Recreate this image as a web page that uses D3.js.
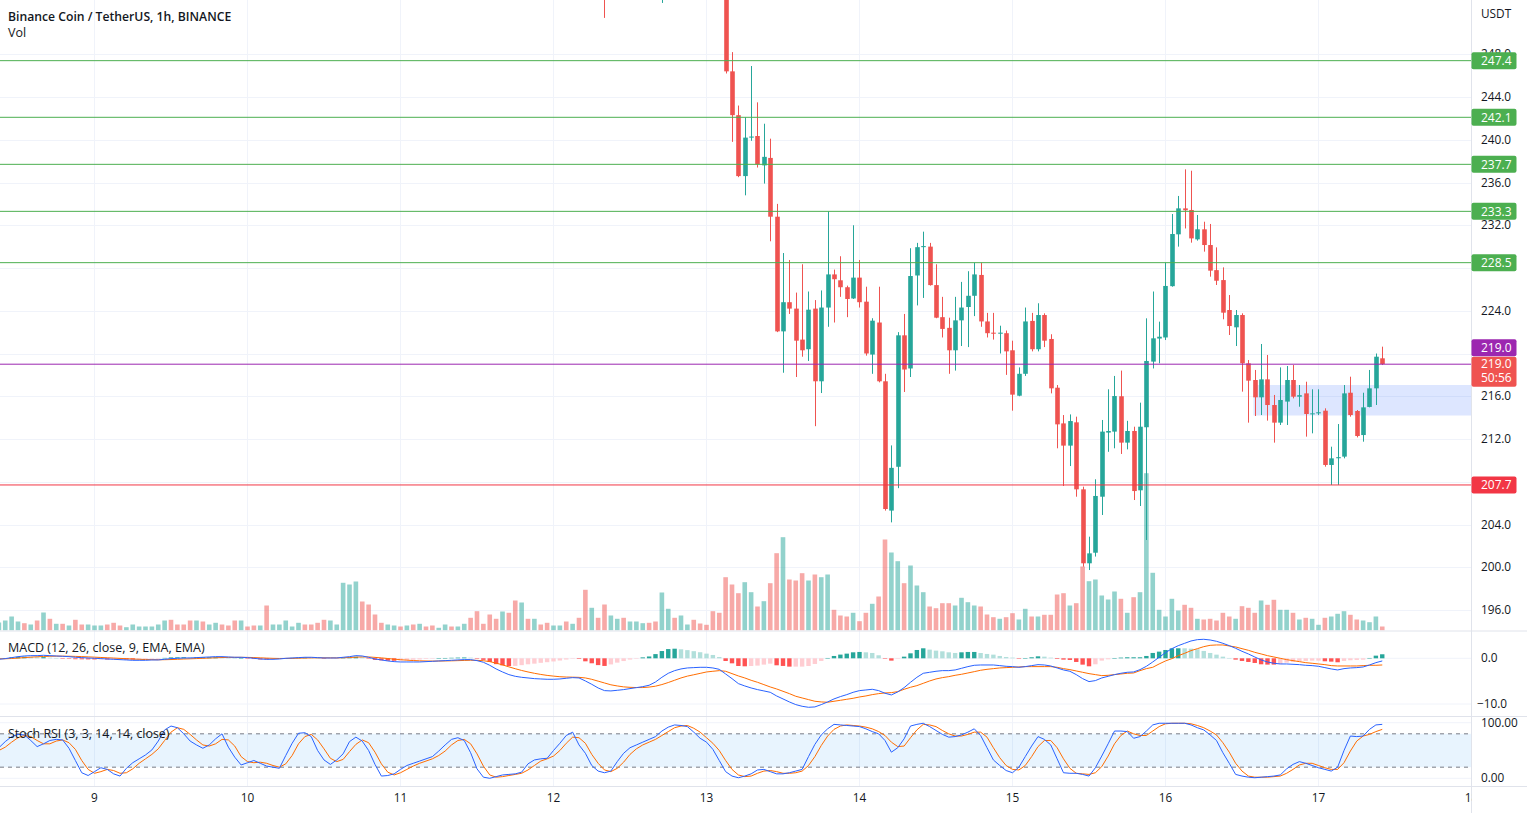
<!DOCTYPE html>
<html><head><meta charset="utf-8">
<script src="https://cdn.jsdelivr.net/npm/d3@7"></script>
<style>
html,body{margin:0;padding:0;background:#fff;overflow:hidden;}
svg{display:block;font-family:"Open Sans","Noto Sans",sans-serif;}
</style></head><body>
<svg id="c" width="1527" height="813"></svg>
<script>
// ---------------- DATA ----------------
// hour index 0 = day 9 00:00; bars run from hour firstHour
const firstHour = -15;
const dayLabels = ["9","10","11","12","13","14","15","16","17","18"];
const titleText = "Binance Coin / TetherUS, 1h, BINANCE";
const priceTicks = [196,200,204,208,212,216,220,224,228,232,236,240,244,248];
const macdTicks = [0,-10];
const stochTicks = [100,0];
const greenLevels = [247.4,242.1,237.7,233.3,228.5];
const purpleLevel = 219.0;
const redLevel = 207.7;
const lastPrice = 219.0;
const countdown = "50:56";
const zoneLow = 214.2, zoneHigh = 217.05, zoneStartHour = 181.8;

const volumes = [
 8,10,14,9,7.3,6,10,18,11.7,6.7,6.7,5,10.7,6,6,
 5,5,6,7.7,5,3.3,6,4,4,4,
 6,10,10.7,6,6,10,10,9,6,7.7,
 6,5,10,10,4,5,5,25,6,6,
 10,4,7.7,6,6,7.7,10.7,10,6,47.7,
 46,49,29,26,16,7.7,6,5,4,5,
 6,6.7,4,5,2.7,6,4,4,6.7,12.7,
 19.3,6.7,16,11.7,19,17.7,30,28,11.7,11.7,
 6,7.7,5,5,9,6.7,12.7,40.7,22.7,12.7,
 26,15,11.7,12.7,9,9,7.3,7.7,9,38,
 21.7,12.7,15,6,10.7,7,5.7,19.3,17.7,53.3,
 46,37.3,48.3,38.3,24,29.3,47.3,77.3,93.3,51,
 50,57.3,50,56,53.3,56,20.7,15,14,17.7,
 9.3,17.7,26.7,34,91,78,69.3,47.3,65,45,
 38.3,24,22.3,27.3,27.3,25,32.7,28.3,25,24,
 16,13.3,11.7,13.3,17.3,11,21.7,14,14,15.7,
 15.7,36,37.3,25,27.3,64,49.3,51,35,31,
 39,31.7,17.7,33.3,38.3,157.3,57.7,20.7,14,31.7,
 20,25.7,22.7,11.7,11,11.7,10,17.7,14,11.7,
 24.3,22.7,17.7,30,25.7,30.7,20.7,20.7,17.7,11,
 12.7,11.7,5.7,12.7,14,16.7,19.3,15.7,11,10,
 8.3,14,4
];
const volumeDirs =
 "uuuudududududdu" +
 "uuddduuuuu" + "uudddduduu" + "dddudduduu" + "uuudddduuu" + "uudddduudu" +
 "dudduuduud" + "dddduddudu" + "dduududdud" + "duuduuuddu" + "uduudddddd" +
 "dduududdud" + "dduduudddu" + "ddudduuduu" + "udddduuuud" + "ddudduudud" +
 "dddudduuuu" + "ududuuuuuu" + "uddudddddu" + "dddudduudu" + "duuduuuddu" + "uud";

const candleStartHour = 80;
const candles = [ // [open, high, low, close]
 [256.5,257.5,251.4,254.0],[254.0,256.8,253.5,256.2],[256.2,258.0,255.4,257.4],[257.4,258.2,255.6,256.3],
 [256.3,258.5,255.9,258.0],[258.0,259.4,257.3,258.9],[258.9,260.0,258.1,259.6],[259.6,260.1,257.8,258.2],
 [258.2,258.7,255.6,256.0],[256.0,259.8,252.8,259.1],[259.1,261.4,258.4,260.8],[260.8,261.5,259.2,259.6],
 [259.6,261.2,259.0,260.7],[260.7,261.6,260.1,261.1],[261.1,261.5,259.4,259.8],[259.8,260.3,258.6,259.0],
 [259.0,259.5,257.9,258.3],[258.3,258.8,256.0,256.6],[256.6,257.2,254.4,255.2],
 [255.2,255.9,246.2,246.4],[246.4,248.2,239.8,242.3],[242.3,243.2,236.5,236.6],[236.6,242.1,234.8,240.2],
 [240.2,246.9,239.9,240.3],[240.35,243.5,237.4,237.7],[237.6,241.5,235.9,238.4],[238.3,240.1,230.5,232.8],
 [232.8,234.0,222.0,222.07],[222.07,229.4,218.2,224.8],[224.8,228.75,223.7,224.2],[224.2,225.7,217.8,221.2],
 [221.3,228.35,219.7,220.3],[220.4,225.8,219.3,224.1],[224.2,225.0,213.2,217.4],[217.4,225.9,216.3,224.3],
 [224.3,233.3,222.5,227.4],[227.4,227.85,222.9,226.95],[226.85,229.1,225.3,226.2],[226.2,226.35,223.4,225.1],
 [225.15,232.0,225.1,227.1],[227.1,228.75,224.3,224.8],[224.85,226.25,219.8,220.0],[219.9,223.3,218.1,223.07],
 [222.9,226.25,217.3,217.4],[217.4,218.1,205.3,205.45],[205.3,211.4,204.2,209.3],[209.4,222.0,207.4,221.7],
 [221.7,223.7,216.4,218.5],[218.6,229.85,217.8,227.25],[227.3,230.35,224.5,229.95],[229.95,231.4,225.2,230.05],
 [230.0,230.35,226.35,226.4],[226.4,228.35,223.3,223.35],[223.4,225.3,221.5,222.3],[222.4,223.35,218.1,220.3],
 [220.3,225.3,218.4,223.1],[223.1,226.7,220.7,224.3],[224.35,227.7,220.6,225.4],[225.4,228.5,223.5,227.4],
 [227.35,228.5,222.5,223.0],[223.0,223.8,221.5,221.9],[221.95,223.8,221.3,221.85],[221.85,222.6,220.0,221.95],
 [221.9,222.15,218.0,220.2],[220.3,221.2,214.65,216.15],[216.05,218.7,216.0,218.1],[218.1,224.3,217.9,223.0],
 [223.05,223.8,220.2,220.4],[220.4,224.7,220.2,223.6],[223.6,223.76,220.6,221.2],
 [221.36,221.8,216.27,216.74],[216.8,217.05,211.13,213.37],[213.46,214.24,207.6,211.38],[211.38,214.3,209.47,213.68],
 [213.56,214.09,206.6,207.29],[207.29,207.54,200.05,200.37],[200.37,202.86,199.74,201.3],[201.36,208.23,201.0,206.67],
 [206.6,213.78,204.89,212.69],[212.6,216.65,210.8,212.75],[212.69,217.9,211.13,216.02],[216.0,218.4,210.6,211.66],
 [211.66,213.7,211.03,212.75],[212.75,213.15,206.29,207.13],[207.2,215.4,205.73,213.15],[213.1,223.29,202.55,219.3],
 [219.24,225.8,218.6,221.42],[221.4,222.98,219.08,221.57],[221.5,228.5,221.26,226.32],[226.3,233.05,226.25,231.18],
 [231.15,234.74,230.0,233.58],[233.58,237.23,231.7,233.4],[233.43,237.1,230.37,230.77],[230.68,232.96,230.56,231.62],
 [231.62,232.33,229.53,230.15],[230.15,232.12,227.19,227.75],[227.8,229.93,226.41,226.81],[226.87,228.06,223.2,223.82],
 [224.07,225.47,221.73,222.57],[222.45,224.07,220.7,223.6],[223.6,223.76,216.43,219.08],[219.08,219.39,213.53,217.46],
 [217.52,218.46,214.15,215.9],[215.9,220.89,214.24,217.58],[217.58,219.86,213.72,215.18],[215.18,216.12,211.66,213.53],
 [213.53,218.7,213.31,215.65],[215.5,218.83,213.31,217.52],[217.52,218.92,215.8,215.96],[215.96,217.05,215.02,216.1],
 [216.27,217.36,212.22,214.34],[214.37,216.65,212.53,214.4],[214.4,216.65,214.24,214.5],[214.65,214.87,209.41,209.57],
 [209.57,211.28,207.7,210.19],[210.2,213.4,207.7,210.3],[210.35,217.05,210.19,216.27],[216.33,217.83,214.09,214.24],
 [214.62,214.71,212.15,212.28],[212.37,216.33,211.75,214.96],[215.0,218.46,214.96,216.74],[216.74,220.0,215.18,219.7],
 [219.55,220.64,218.92,219.02]
];

const macdLine = [
 -0.22,-0.07,0.15,0.36,0.51,0.58,0.58,0.66,0.58,0.51,0.44,0.36,0.22,0.15,0.07,
 0,-0.07,-0.15,-0.22,-0.29,-0.36,-0.44,-0.44,-0.44,-0.36,
 -0.36,-0.22,-0.07,0,0.07,0.07,0.15,0.22,0.29,0.36,
 0.36,0.29,0.22,0.22,0.15,0,-0.15,-0.22,-0.22,-0.15,
 0,0.07,0.15,0.22,0.22,0.15,0.07,0.07,0.07,0.22,
 0.36,0.58,0.51,0.22,-0.15,-0.36,-0.58,-0.73,-0.8,-0.8,
 -0.8,-0.8,-0.73,-0.66,-0.58,-0.51,-0.44,-0.36,-0.29,-0.29,
 -0.51,-0.87,-1.53,-2.33,-2.99,-3.57,-3.94,-4.16,-4.3,-4.45,
 -4.52,-4.59,-4.59,-4.52,-4.37,-4.23,-4.3,-4.96,-5.69,-6.49,
 -7.07,-7.14,-7.0,-6.85,-6.63,-6.42,-6.2,-5.9,-5.18,-4.16,
 -3.28,-2.7,-2.33,-2.11,-2.04,-1.97,-1.97,-2.11,-2.41,-3.43,
 -4.45,-5.54,-6.05,-6.49,-6.85,-7.14,-7.44,-8.24,-8.89,-9.55,
 -10.13,-10.5,-10.72,-10.64,-10.13,-9.55,-8.89,-8.38,-7.95,-7.44,
 -7.07,-6.93,-6.78,-7.07,-7.65,-8.02,-7.36,-6.42,-5.25,-4.16,
 -3.28,-3.06,-2.84,-2.7,-2.7,-2.55,-2.19,-1.82,-1.53,-1.46,
 -1.46,-1.46,-1.6,-1.75,-1.82,-1.97,-1.82,-1.6,-1.39,-1.46,
 -1.68,-2.11,-2.55,-2.84,-3.57,-4.45,-5.1,-4.88,-4.3,-3.94,
 -3.57,-3.28,-3.06,-2.99,-2.48,-1.75,-0.8,0.22,1.24,2.11,
 2.77,3.28,3.79,4.08,4.16,4.01,3.72,3.28,2.77,2.19,
 1.53,0.95,0.29,-0.36,-0.8,-1.09,-1.24,-1.24,-1.31,-1.39,
 -1.53,-1.6,-1.75,-2.04,-2.33,-2.55,-2.26,-2.11,-2.04,-1.9,
 -1.46,-0.95,-0.58
];
const signalLine = [
 -0.1,-0.1,-0.05,0.05,0.15,0.25,0.33,0.4,0.45,0.47,0.47,0.45,0.42,0.37,0.31,
 0.25,0.18,0.12,0.05,-0.02,-0.09,-0.16,-0.22,-0.27,-0.3,
 -0.32,-0.31,-0.27,-0.22,-0.16,-0.11,-0.06,0.0,0.06,0.12,
 0.17,0.2,0.21,0.21,0.2,0.16,0.1,0.04,-0.01,-0.04,
 -0.03,-0.01,0.02,0.06,0.09,0.1,0.1,0.1,0.09,0.12,
 0.17,0.25,0.3,0.29,0.2,0.09,-0.05,-0.19,-0.31,-0.41,
 -0.49,-0.55,-0.59,-0.61,-0.6,-0.58,-0.55,-0.51,-0.47,-0.43,
 -0.45,-0.53,-0.73,-1.05,-1.44,-1.87,-2.28,-2.66,-2.99,-3.28,
 -3.53,-3.74,-3.9,-4.03,-4.1,-4.13,-4.17,-4.3,-4.6,-5.0,
 -5.4,-5.8,-6.05,-6.25,-6.35,-6.4,-6.4,-6.3,-6.1,-5.75,
 -5.3,-4.8,-4.3,-3.9,-3.6,-3.3,-2.99,-2.84,-2.7,-2.84,
 -3.35,-3.86,-4.3,-4.81,-5.25,-5.76,-6.27,-6.71,-7.22,-7.73,
 -8.31,-8.68,-9.04,-9.4,-9.55,-9.62,-9.4,-9.19,-8.97,-8.75,
 -8.46,-8.24,-7.95,-7.73,-7.58,-7.51,-7.29,-6.78,-6.34,-5.98,
 -5.47,-4.96,-4.52,-4.23,-4.01,-3.72,-3.5,-3.21,-2.92,-2.62,
 -2.41,-2.26,-2.11,-2.04,-1.97,-1.9,-1.82,-1.82,-1.82,-1.82,
 -1.82,-1.97,-2.26,-2.48,-2.77,-3.06,-3.35,-3.57,-3.79,-3.72,
 -3.57,-3.43,-3.28,-3.21,-2.7,-2.26,-1.97,-1.24,-0.58,-0.07,
 0.58,1.09,1.68,2.11,2.55,2.84,2.92,2.92,2.7,2.48,
 2.11,1.75,1.31,0.95,0.58,0.29,0,-0.29,-0.51,-0.73,
 -0.95,-1.09,-1.24,-1.39,-1.6,-1.68,-1.68,-1.68,-1.68,-1.6,
 -1.53,-1.53,-1.46
];
const stochK = [
 55,66,75,79,78,68,57,62,68,70,69,54,32,10,5,
 12,19,16,8,4,18,28,35,42,51,
 67,87,94,91,80,67,60,54,60,71,
 80,56,38,24,28,32,27,22,20,18,
 41,63,81,82,75,50,33,25,33,44,
 66,74,67,50,25,4,5,8,16,23,
 27,31,35,39,49,60,70,73,68,46,
 17,2,0,3,6,7,8,11,26,33,
 35,36,50,63,77,83,60,45,23,13,
 10,13,30,45,55,60,65,70,75,85,
 92,96,95,93,83,72,65,52,32,12,
 4,1,4,8,15,16,12,8,8,10,
 13,16,39,61,78,89,97,96,95,94,
 93,89,84,80,68,47,55,71,94,97,
 99,93,86,79,74,75,78,83,89,77,
 55,33,23,14,10,20,39,58,75,70,
 60,35,10,9,9,7,4,19,40,62,
 85,85,84,72,75,85,96,99,99,99,
 99,99,96,91,87,78,68,46,27,7,
 4,2,1,2,3,4,6,17,25,30,
 27,23,19,16,13,20,50,76,75,76,
 88,96,97
];
const stochD = [
 50,56,65,73,77,75,68,62,62,67,69,64,52,32,16,
 9,12,16,14,9,10,17,27,35,43,
 53,68,83,91,88,79,69,60,58,62,
 70,69,58,39,30,28,29,27,23,20,
 26,41,62,75,79,69,53,36,30,34,
 48,61,69,64,47,26,11,6,10,16,
 22,27,31,35,41,49,60,68,70,62,
 44,22,6,2,3,5,7,9,15,23,
 31,35,40,50,63,74,73,63,43,27,
 15,12,18,29,43,53,60,65,70,77,
 84,91,94,95,90,83,73,63,50,32,
 16,6,3,4,9,13,14,12,9,9,
 10,13,23,39,59,76,88,94,96,95,
 94,92,89,84,77,65,57,58,73,87,
 97,96,93,86,80,76,76,79,83,83,
 74,55,37,23,16,15,23,39,57,68,
 68,55,35,18,9,8,7,10,21,40,
 62,77,85,80,77,77,85,93,98,99,
 99,99,98,95,91,85,78,64,47,27,
 13,4,2,2,2,3,4,9,16,24,
 27,27,23,19,16,16,28,49,67,76,
 79,84,88
];

// ---------------- LAYOUT ----------------
const W = 1527, H = 813, plotRight = 1471.5;
const mainTop = 0, mainBottom = 630.5;
const macdTop = 631.5, macdBottom = 716;
const stochTop = 717, stochBottom = 786;
const upColor = "#26a69a", downColor = "#ef5350";
const gridColor = "#f0f3fa", sepColor = "#e0e3eb", textColor = "#131722";
const axisFont = "11.8px", labelFont = "12px";

const svg = d3.select("#c");
const x = d3.scaleLinear().domain([-14.8235, 216]).range([0, plotRight]);
const yP = d3.scaleLinear().domain([196, 244]).range([610, 97]);
const yV = d3.scaleLinear().domain([0, 160]).range([mainBottom, mainBottom - 160]);
const yM = d3.scaleLinear().domain([-10, 0]).range([704, 658.3]);
const yS = d3.scaleLinear().domain([0, 100]).range([778.3, 722.7]);

const defs = svg.append("defs");
function clip(id, y0, y1, x1) {
  defs.append("clipPath").attr("id", id).append("rect")
    .attr("x", 0).attr("y", y0).attr("width", x1 || plotRight).attr("height", y1 - y0);
}
clip("cMain", mainTop, mainBottom);
clip("cMacd", macdTop, macdBottom);
clip("cStoch", stochTop, stochBottom);
clip("cAxis", stochBottom, H);

const hours = d3.range(firstHour, firstHour + volumes.length);
const dayHours = dayLabels.map((d, k) => k * 24);

// ---------- grid ----------
const grid = svg.append("g");
dayHours.forEach(h => {
  grid.append("line").attr("x1", x(h)).attr("x2", x(h)).attr("y1", 0).attr("y2", stochBottom)
    .attr("stroke", gridColor).attr("stroke-width", 1);
});
priceTicks.forEach(t => grid.append("line").attr("x1", 0).attr("x2", plotRight)
  .attr("y1", Math.round(yP(t)) + 0.5).attr("y2", Math.round(yP(t)) + 0.5).attr("stroke", gridColor));
macdTicks.forEach(t => grid.append("line").attr("x1", 0).attr("x2", plotRight)
  .attr("y1", yM(t)).attr("y2", yM(t)).attr("stroke", gridColor));
stochTicks.forEach(t => grid.append("line").attr("x1", 0).attr("x2", plotRight)
  .attr("y1", yS(t)).attr("y2", yS(t)).attr("stroke", gridColor));

// ---------- main pane ----------
const main = svg.append("g").attr("clip-path", "url(#cMain)");
main.append("rect").attr("x", x(zoneStartHour)).attr("y", yP(zoneHigh))
  .attr("width", plotRight - x(zoneStartHour)).attr("height", yP(zoneLow) - yP(zoneHigh))
  .attr("fill", "rgba(41,98,255,0.16)");
const bw = 4.6;
main.selectAll("rect.vol").data(hours).join("rect").attr("class", "vol")
  .attr("x", h => x(h) - bw / 2)
  .attr("y", (h, k) => yV(volumes[k]))
  .attr("width", bw)
  .attr("height", (h, k) => mainBottom - yV(volumes[k]))
  .attr("fill", (h, k) => volumeDirs[k] === "u" ? "rgba(38,166,154,0.5)" : "rgba(239,83,80,0.5)");
const cg = main.append("g");
candles.forEach((c, k) => {
  const h = candleStartHour + k;
  const [o, hi, lo, cl] = c;
  const col = cl >= o ? upColor : downColor;
  const cx = Math.round(x(h)) + 0.5;
  cg.append("line").attr("x1", cx).attr("x2", cx).attr("y1", yP(hi)).attr("y2", yP(lo))
    .attr("stroke", col).attr("stroke-width", 1);
  const top = yP(Math.max(o, cl)), bot = yP(Math.min(o, cl));
  cg.append("rect").attr("x", cx - bw / 2).attr("y", top).attr("width", bw)
    .attr("height", Math.max(1, bot - top)).attr("fill", col);
});
greenLevels.forEach(v => main.append("line").attr("x1", 0).attr("x2", plotRight)
  .attr("y1", yP(v)).attr("y2", yP(v)).attr("stroke", "#4caf50").attr("stroke-width", 1));
main.append("line").attr("x1", 0).attr("x2", plotRight).attr("y1", yP(purpleLevel)).attr("y2", yP(purpleLevel))
  .attr("stroke", "#9c27b0").attr("stroke-width", 1);
main.append("line").attr("x1", 0).attr("x2", plotRight).attr("y1", yP(redLevel)).attr("y2", yP(redLevel))
  .attr("stroke", "#f23645").attr("stroke-width", 1);

// ---------- MACD pane ----------
const mp = svg.append("g").attr("clip-path", "url(#cMacd)");
const hist = macdLine.map((m, k) => m - signalLine[k]);
const hw = 4.4;
mp.selectAll("rect.h").data(hours).join("rect").attr("class", "h")
  .attr("x", h => x(h) - hw / 2)
  .attr("y", (h, k) => Math.min(yM(0), yM(hist[k])))
  .attr("width", hw)
  .attr("height", (h, k) => Math.max(0.5, Math.abs(yM(hist[k]) - yM(0))))
  .attr("fill", (h, k) => {
    const v = hist[k], p = k > 0 ? hist[k - 1] : v;
    if (v >= 0) return v >= p ? "#26a69a" : "#b2dfdb";
    return v >= p ? "#ffcdd2" : "#ff5252";
  });
const lineM = d3.line().x((d, k) => x(hours[k])).y(d => yM(d));
mp.append("path").attr("d", lineM(signalLine)).attr("fill", "none").attr("stroke", "#ff6d00").attr("stroke-width", 1);
mp.append("path").attr("d", lineM(macdLine)).attr("fill", "none").attr("stroke", "#2962ff").attr("stroke-width", 1);

// ---------- Stoch pane ----------
const sp = svg.append("g").attr("clip-path", "url(#cStoch)");
sp.append("rect").attr("x", 0).attr("y", yS(80)).attr("width", plotRight).attr("height", yS(20) - yS(80))
  .attr("fill", "rgba(33,150,243,0.1)");
[80, 20].forEach(v => sp.append("line").attr("x1", 0).attr("x2", plotRight)
  .attr("y1", yS(v)).attr("y2", yS(v)).attr("stroke", "#787b86").attr("stroke-dasharray", "4,4"));
const lineS = d3.line().x((d, k) => x(hours[k])).y(d => yS(d));
sp.append("path").attr("d", lineS(stochD)).attr("fill", "none").attr("stroke", "#ff6d00").attr("stroke-width", 1);
sp.append("path").attr("d", lineS(stochK)).attr("fill", "none").attr("stroke", "#2962ff").attr("stroke-width", 1);

// ---------- separators ----------
[mainBottom + 0.5, macdBottom + 0.5, stochBottom + 0.5].forEach(yy =>
  svg.append("line").attr("x1", 0).attr("x2", W).attr("y1", yy).attr("y2", yy).attr("stroke", sepColor));
svg.append("line").attr("x1", plotRight).attr("x2", plotRight).attr("y1", 0).attr("y2", H).attr("stroke", sepColor);

// ---------- price-axis label boxes (computed first to hide covered tick labels) ----------
const yCur = yP(lastPrice);
const yPurple = yCur - 16.5;
const boxes = greenLevels.map(v => [yP(v) - 8.5, yP(v) + 8.5])
  .concat([[yP(redLevel) - 8.5, yP(redLevel) + 8.5], [yPurple - 8.5, yPurple + 8.5], [yCur - 7.5, yCur + 22.5]]);
function fullyCovered(yc) {
  for (let yy = yc - 4; yy <= yc + 4; yy += 0.5) {
    if (!boxes.some(b => yy >= b[0] - 1 && yy <= b[1] + 1)) return false;
  }
  return true;
}

// ---------- axes text ----------
const ax = svg.append("g").attr("font-size", axisFont).attr("fill", textColor);
priceTicks.filter(t => !fullyCovered(yP(t))).forEach(t =>
  ax.append("text").attr("x", 1481).attr("y", yP(t)).attr("dy", "0.35em").text(t.toFixed(1)));
ax.append("text").attr("x", 1481).attr("y", 14).attr("dy", "0.35em").text("USDT");
macdTicks.forEach(t => ax.append("text").attr("x", t < 0 ? 1477 : 1481).attr("y", yM(t)).attr("dy", "0.35em").text(t.toFixed(1).replace("-", "\u2212")));
stochTicks.forEach(t => ax.append("text").attr("x", 1481).attr("y", yS(t)).attr("dy", "0.35em").text(t.toFixed(2)));
const xa = svg.append("g").attr("clip-path", "url(#cAxis)").attr("font-size", axisFont).attr("fill", textColor);
dayLabels.forEach((d, k) => xa.append("text").attr("x", x(dayHours[k])).attr("y", 798).attr("dy", "0.35em")
  .attr("text-anchor", "middle").text(d));

// ---------- price labels ----------
function labelBox(y0, hgt, bg) {
  const g = svg.append("g");
  g.append("rect").attr("x", plotRight).attr("y", y0).attr("width", 45).attr("height", hgt).attr("rx", 2).attr("fill", bg);
  return g;
}
function labelText(g, yc, txt) {
  g.append("text").attr("x", 1481).attr("y", yc).attr("dy", "0.35em").attr("fill", "#fff")
    .attr("font-size", labelFont).text(txt);
}
greenLevels.forEach(v => labelText(labelBox(yP(v) - 8.5, 17, "#4caf50"), yP(v), v.toFixed(1)));
labelText(labelBox(yP(redLevel) - 8.5, 17, "#f23645"), yP(redLevel), redLevel.toFixed(1));
{
  const g = labelBox(yCur - 7.5, 30, downColor);
  labelText(g, yCur, lastPrice.toFixed(1));
  labelText(g, yCur + 14, countdown);
  labelText(labelBox(yPurple - 8.5, 17, "#9c27b0"), yPurple, purpleLevel.toFixed(1));
}

// ---------- legends ----------
const lg = svg.append("g").attr("fill", textColor);
lg.append("text").attr("x", 8).attr("y", 16.5).attr("dy", "0.35em").attr("font-size", "12.2px").attr("font-weight", 600).text(titleText);
lg.append("text").attr("x", 8).attr("y", 33).attr("dy", "0.35em").attr("font-size", "12.5px").text("Vol");
lg.append("text").attr("x", 8).attr("y", 648).attr("dy", "0.35em").attr("font-size", "12.5px").text("MACD (12, 26, close, 9, EMA, EMA)");
lg.append("text").attr("x", 8).attr("y", 734).attr("dy", "0.35em").attr("font-size", "12.4px").text("Stoch RSI (3, 3, 14, 14, close)");
</script>
</body></html>
